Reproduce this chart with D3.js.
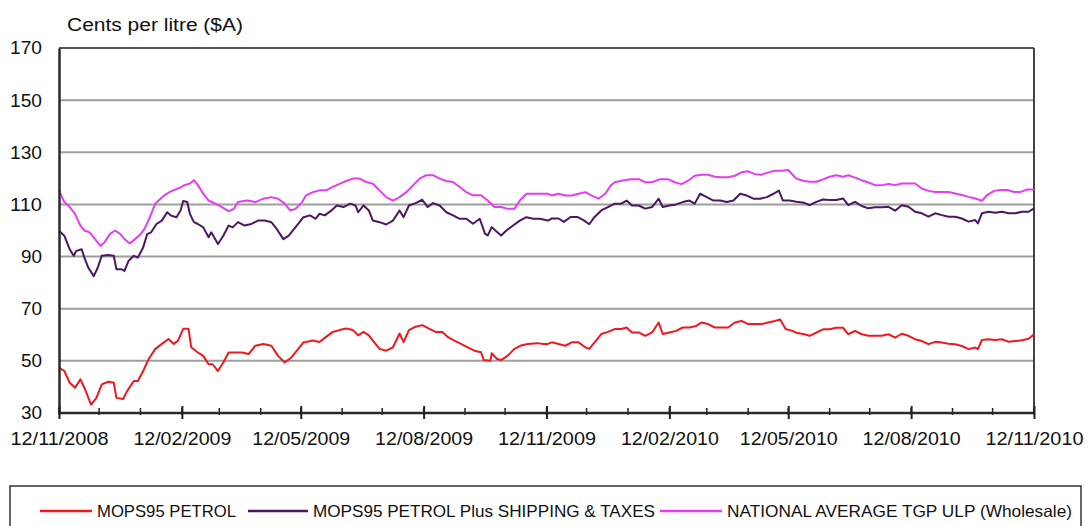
<!DOCTYPE html>
<html>
<head>
<meta charset="utf-8">
<script src="https://cdn.jsdelivr.net/npm/d3@7"></script>
<style>
  html, body { margin: 0; padding: 0; background: #fff; }
  svg { display: block; font-family: "Liberation Sans", Arial, sans-serif; }
</style>
</head>
<body>
<svg id="chart" width="1089" height="526"></svg>
<script>
// ---------------- DATA (days after 12/11/2008, cents per litre) ----------------
const startDate = "2008-11-12";
const endDate = "2010-11-12";
const yTicks = [30, 50, 70, 90, 110, 130, 150, 170];
const xTickLabels = ["12/11/2008", "12/02/2009", "12/05/2009", "12/08/2009", "12/11/2009",
                     "12/02/2010", "12/05/2010", "12/08/2010", "12/11/2010"];
const seriesNames = ["MOPS95 PETROL", "MOPS95 PETROL Plus SHIPPING & TAXES", "NATIONAL AVERAGE TGP ULP (Wholesale)"];

const redDays = [0,4,8,12,16,19,22,24,28,32,37,41,43,48,51,56,59,63,67,72,77,82,86,89,93,97,99,104,108,112,115,119,123,127,132,137,142,147,153,159,164,169,174,179,183,
  185,190,195,200,205,210,215,220,224,228,232,235,240,245,250,255,258,262,267,272,277,282,287,291,296,301,306,311,316,318,323,324,328,331,336,341,346,351,358,363,366,
  369,374,379,384,389,394,397,401,406,411,416,421,425,429,434,439,444,449,452,457,462,467,472,477,481,486,491,496,501,506,511,516,521,526,531,536,540,544,549,
  552,558,562,567,572,577,582,587,591,596,601,606,611,616,621,626,631,636,641,646,651,656,661,666,671,676,681,686,688,691,696,701,706,711,716,721,726,730];
const redValues = [47.4,46.1,41.6,39.7,42.9,39.7,35.8,33.2,35.8,41,42,41.6,35.8,35.4,38.4,42.3,42.3,46.1,50.6,54.5,56.5,58.4,56.5,57.7,62.3,62.3,55.2,53.2,51.9,48.7,48.7,46.1,49.4,53.2,53.2,53.2,52.6,55.8,56.5,55.8,51.9,49.4,51.3,54.5,57.1,
  57.2,57.8,57.2,59.2,61.1,61.8,62.4,61.8,59.8,61.1,59.8,57.8,54.6,53.9,55.2,60.5,57.2,61.8,63.1,63.7,62.4,61.1,61.1,59.2,57.8,56.5,55.2,53.9,53.3,50.3,50,52.9,50.7,50.3,52,54.6,55.9,56.5,56.8,56.5,56.5,
  57.1,56.5,55.8,57.1,57.1,55.2,54.6,57.1,60.3,61.1,62.2,62.2,62.8,60.9,60.9,59.6,60.9,64.7,60.3,60.9,61.5,62.8,62.8,63.4,64.7,64.1,62.8,62.8,62.8,64.7,65.3,64.1,64.1,64.1,64.7,65.3,65.9,62.2,61.5,
  60.8,60.2,59.6,60.8,62.1,62.1,62.7,62.7,60.2,61.5,60.2,59.6,59.6,59.6,60.2,58.9,60.4,59.6,58.3,57.6,56.4,57.3,57,56.6,56.4,55.7,54.5,55.1,54.5,58,58.3,58,58.3,57.3,57.6,57.9,58.5,60.2];

const purpleDays = [0,4,8,11,13,17,19,22,26,29,32,37,41,43,47,49,52,56,59,63,66,69,73,77,81,84,88,91,93,96,98,101,104,108,112,114,119,123,127,130,134,139,144,149,154,159,163,168,172,177,183,
  188,192,195,199,204,208,213,218,222,224,228,232,235,240,245,250,255,258,262,267,272,276,280,285,290,295,300,305,310,315,319,321,324,328,331,335,340,345,350,355,360,366,
  369,374,378,383,388,393,397,401,406,411,416,421,425,429,434,439,444,449,452,457,462,467,472,476,480,485,490,495,500,505,510,515,520,525,530,535,539,542,547,
  552,558,562,567,572,577,582,587,591,596,601,606,611,616,621,626,631,636,641,646,651,656,661,666,671,676,681,686,688,691,696,701,706,711,716,721,726,730];
const purpleValues = [99.9,98,92.8,90.3,92.2,92.8,89.6,85.7,82.5,85.7,90.3,90.6,90.3,85.1,85.1,84.5,88.3,90.3,89.6,93.5,98.6,99.3,102.5,103.8,107,105.7,105.1,107.7,111.3,110.9,106.4,103.2,102.5,101.2,97.4,99.3,94.8,98,101.9,101.2,103.2,101.9,102.5,103.8,103.8,103.2,100.6,96.7,98,101.2,105.1,
  105.8,104.5,106.4,105.8,107.7,109.6,109,110.3,109.6,107,109.6,107.7,103.8,103.2,102.3,103.8,107.7,105.1,109.6,110.5,111.8,109,110.5,109.6,107,105.8,104.5,104.5,102.6,104.5,98.7,98.1,101.3,99.4,98.1,100,101.9,103.8,105.1,104.5,104.5,103.8,
  104.6,104.6,103.3,105.2,105.2,103.9,102.4,105.2,107.7,109,110.3,110.3,111.5,109.6,109.6,108.4,109,112.2,109,109.6,110,110.9,111.5,110.3,114.1,112.8,111.5,111.5,110.9,111.5,114.1,113.4,112.2,112.2,112.8,114.1,115.3,111.5,111.5,
  111,110.6,109.7,111,111.9,111.7,111.7,112.3,109.7,111,109.4,108.5,108.9,108.9,109.1,107.6,109.7,109.1,107.2,106.6,105.3,106.6,105.9,105.3,105.3,104.6,103.4,104,102.7,106.6,107.2,106.8,107.2,106.6,106.6,107.2,107.2,108.5];

const magentaDays = [0,4,8,12,16,19,23,27,31,34,38,42,46,49,53,57,61,64,68,72,76,79,83,87,91,94,98,101,104,108,112,117,122,127,131,134,141,147,153,159,164,169,173,177,182,
  185,190,195,200,205,210,215,220,225,230,235,240,245,250,255,260,265,270,275,280,285,290,295,300,305,310,316,321,326,331,336,341,345,350,358,366,
  369,374,379,384,389,394,399,404,409,413,416,421,428,434,439,444,450,456,461,466,471,476,481,486,491,496,501,506,511,516,521,526,531,536,541,546,550,
  552,558,562,567,572,577,582,587,591,596,601,606,611,616,621,626,631,636,641,646,651,656,661,666,671,676,681,686,691,695,700,705,710,715,720,725,730];
const magentaValues = [115.4,110.9,109,106.4,101.9,100,99.3,96.7,94.1,95.4,98.6,100,98.6,96.7,95,96.7,98.6,100.6,105,110.3,112.2,113.5,114.8,115.7,116.5,117.4,118,119.3,117.4,114.1,111.5,110.3,109,107.4,108.3,110.9,111.5,110.9,112.2,112.8,112.2,110.3,107.7,108.3,110.9,
  113.5,114.7,115.4,115.4,116.7,117.9,119,119.9,119.9,118.6,117.9,115.4,112.8,111.5,112.8,114.7,117.3,119.9,121.2,121.2,119.9,119,118.6,116.7,114.7,113.5,113.5,111.5,109,109,108.3,108.3,111.5,114.1,114.1,114.1,
  113.4,114.1,113.4,113.4,114.1,114.7,113.4,112.2,114.1,117.2,118.5,119.1,119.7,119.7,118.5,118.5,119.7,119.7,118.5,117.8,119.1,121,121.4,121.4,120.6,120.4,120.4,121,122.3,122.7,121.6,121.4,122.3,122.9,122.9,123.2,121,
  119.9,119,118.7,118.7,119.6,120.6,121.2,120.6,121.2,120.3,119.3,118.4,117.4,117.4,117.8,117.4,118,118,118,116.1,115.2,114.8,114.8,114.8,114.2,113.6,112.9,112.3,111.4,113.6,115.2,115.5,115.5,114.8,114.8,115.7,115.7];

const seriesColors = ["#ec1a1f", "#4b1760", "#e43df2"];

// ---------------- CHART ----------------
const svg = d3.select("#chart");
const margin = { left: 59, right: 1034, top: 48, bottom: 413 };
const parse = d3.timeParse("%Y-%m-%d");
const d0 = parse(startDate), d1 = parse(endDate);

const x = d3.scaleTime().domain([d0, d1]).range([margin.left, margin.right]);
const y = d3.scaleLinear().domain([30, 170]).range([margin.bottom, margin.top]);

// gridlines
svg.append("g").selectAll("line")
  .data(yTicks.filter(v => v > 30 && v < 170))
  .join("line")
  .attr("x1", margin.left).attr("x2", margin.right)
  .attr("y1", d => y(d)).attr("y2", d => y(d))
  .attr("stroke", "#9e9e9e").attr("stroke-width", 2);

// frame: top and right
svg.append("line").attr("x1", margin.left).attr("x2", margin.right)
  .attr("y1", y(170)).attr("y2", y(170)).attr("stroke", "#555").attr("stroke-width", 2);
svg.append("line").attr("x1", margin.right).attr("x2", margin.right)
  .attr("y1", y(170)).attr("y2", y(30)).attr("stroke", "#444").attr("stroke-width", 2);

// series
const line = d3.line().x(d => x(d[0])).y(d => y(d[1]));
const allSeries = [
  { days: redDays, values: redValues },
  { days: purpleDays, values: purpleValues },
  { days: magentaDays, values: magentaValues }
];
allSeries.forEach((s, i) => {
  const pts = s.days.map((dd, k) => [d3.timeDay.offset(d0, dd), s.values[k]]);
  svg.append("path").datum(pts)
    .attr("fill", "none").attr("stroke", seriesColors[i])
    .attr("stroke-width", 2).attr("stroke-linejoin", "round")
    .attr("d", line);
});

// y axis
const yAxis = svg.append("g").attr("transform", `translate(${margin.left},0)`)
  .call(d3.axisLeft(y).tickValues(yTicks).tickSize(0).tickPadding(17).tickFormat(d3.format("d")));
yAxis.select(".domain").attr("stroke", "#2a2a2a").attr("stroke-width", 2.5);
yAxis.selectAll("text").attr("font-size", 18.5).attr("fill", "#111")
  .attr("font-family", "Liberation Sans, Arial, sans-serif")
  .attr("textLength", 32).attr("lengthAdjust", "spacingAndGlyphs");
yAxis.selectAll("text").filter(d => d < 100).attr("textLength", 21);

// x axis: minor monthly ticks
const monthDates = d3.range(0, 25).map(m => d3.timeMonth.offset(d0, m));
const majorDates = xTickLabels.map(t => d3.timeParse("%d/%m/%Y")(t));
svg.append("g").selectAll("line").data(monthDates).join("line")
  .attr("x1", d => x(d)).attr("x2", d => x(d))
  .attr("y1", y(30) - 5).attr("y2", y(30) + 2)
  .attr("stroke", "#222").attr("stroke-width", 1.5);

const xAxis = svg.append("g").attr("transform", `translate(0,${margin.bottom})`)
  .call(d3.axisBottom(x).tickValues(majorDates).tickSize(6).tickPadding(13)
    .tickFormat((d, i) => xTickLabels[i]));
xAxis.select(".domain").attr("stroke", "#2a2a2a").attr("stroke-width", 2.5).attr("d", `M${margin.left},0H${margin.right}`);
xAxis.selectAll(".tick line").attr("y1", -7).attr("stroke", "#222").attr("stroke-width", 2);
xAxis.selectAll("text").attr("font-size", 18.5).attr("fill", "#111")
  .attr("font-family", "Liberation Sans, Arial, sans-serif")
  .attr("textLength", 98).attr("lengthAdjust", "spacingAndGlyphs");

// y axis title
svg.append("text").attr("x", 67).attr("y", 31)
  .attr("font-size", 18).attr("fill", "#111")
  .attr("textLength", 176).attr("lengthAdjust", "spacingAndGlyphs")
  .text("Cents per litre ($A)");

// legend
const legend = svg.append("g");
legend.append("rect").attr("x", 10).attr("y", 486).attr("width", 1071).attr("height", 60)
  .attr("fill", "#fff").attr("stroke", "#333").attr("stroke-width", 1.5);
const legendLineX = [40, 248, 660];
const legendLineW = [52, 60, 62];
const legendTextW = [139, 342, 345];
seriesNames.forEach((name, i) => {
  legend.append("line")
    .attr("x1", legendLineX[i]).attr("x2", legendLineX[i] + legendLineW[i])
    .attr("y1", 511).attr("y2", 511)
    .attr("stroke", seriesColors[i]).attr("stroke-width", 2.5);
  legend.append("text")
    .attr("x", legendLineX[i] + legendLineW[i] + 5).attr("y", 517)
    .attr("font-size", 16.5).attr("fill", "#111")
    .attr("textLength", legendTextW[i]).attr("lengthAdjust", "spacingAndGlyphs")
    .text(name);
});
</script>
</body>
</html>
